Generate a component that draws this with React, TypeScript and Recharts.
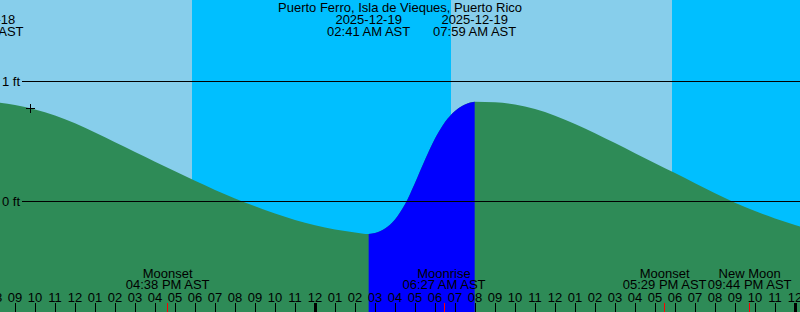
import {
  ComposedChart,
  Area,
  XAxis,
  YAxis,
  ReferenceArea,
  ReferenceLine,
  Scatter,
} from "recharts";

const FONT = '"Liberation Sans", Arial, sans-serif';

const stationName = "Puerto Ferro, Isla de Vieques, Puerto Rico";

// hours counted from 2025-12-18 00:00 AST
const viewStart = 8.25;
const viewEnd = 48.25;

const tideHours = [
  7.35, 8.25, 9, 10, 11, 12, 13, 14, 15, 16, 17, 18, 19, 20, 21, 22, 23, 24,
  25, 26, 26.683, 27, 27.5, 28, 28.5, 29, 29.5, 30, 30.5, 31, 31.5, 31.983, 33,
  34, 35, 36, 37, 38, 39, 40, 41, 42, 43, 44, 45, 46, 47, 48, 48.25,
];
const tideFeet = [
  0.831, 0.819, 0.8, 0.763, 0.712, 0.647, 0.57, 0.49, 0.409, 0.328, 0.248,
  0.168, 0.0925, 0.0217, -0.044, -0.104, -0.158, -0.2025, -0.237, -0.262,
  -0.275, -0.267, -0.229, -0.154, -0.0275, 0.15, 0.343, 0.52, 0.658, 0.75,
  0.804, 0.8275, 0.822, 0.805, 0.766, 0.711, 0.6425, 0.565, 0.4825, 0.398,
  0.315, 0.2325, 0.1475, 0.064, -0.015, -0.084, -0.145, -0.199, -0.212,
];

// low / high tide events
const eventHours = [7.35, 26.683, 31.983];
const eventDates = ["2025-12-18", "2025-12-19", "2025-12-19"];
const eventClock = ["07:21 AM AST", "02:41 AM AST", "07:59 AM AST"];

// daylight bands
const bandStart = [8.25, 17.85, 30.8, 41.85];
const bandEnd = [17.85, 30.8, 41.85, 48.25];
const bandIsDay = [true, false, true, false];

// moon events
const moonHours = [16.633, 30.45, 41.483, 45.733];
const moonNames = ["Moonset", "Moonrise", "Moonset", "New Moon"];
const moonClock = ["04:38 PM AST", "06:27 AM AST", "05:29 PM AST", "09:44 PM AST"];

const hourTicks = [
  8, 9, 10, 11, 12, 13, 14, 15, 16, 17, 18, 19, 20, 21, 22, 23, 24, 25, 26, 27,
  28, 29, 30, 31, 32, 33, 34, 35, 36, 37, 38, 39, 40, 41, 42, 43, 44, 45, 46,
  47, 48,
];
const footTicks = [0, 1];

// current-time marker
const nowMark = [{ t: 9.75, ft: 0.772 }];

const riseFrom = eventHours[1];
const riseTo = eventHours[2];

const data = tideHours.map((t, i) => ({
  t,
  ft: tideFeet[i],
  rise: t >= riseFrom && t <= riseTo ? tideFeet[i] : null,
}));

function hourLabel(h: number) {
  const v = h % 12 === 0 ? 12 : h % 12;
  return v < 10 ? "0" + v : String(v);
}

function HourTick(props: any) {
  const { x, y, payload } = props;
  const midnight = payload.value % 24 === 0;
  return (
    <g>
      <line
        x1={x}
        x2={x}
        y1={y + 1}
        y2={y + 10}
        stroke="#000"
        strokeWidth={midnight ? 3 : 1}
        shapeRendering="crispEdges"
      />
      <text x={x} y={y} textAnchor="middle" fontSize={13} fontFamily={FONT} fill="#000">
        {hourLabel(payload.value)}
      </text>
    </g>
  );
}

// this axis sits 1px above the hour axis (stacked mirror axes)
function MoonTick(props: any) {
  const { x, y, index } = props;
  return (
    <g>
      <line x1={x} x2={x} y1={y + 2} y2={y + 11} stroke="#ff0000" shapeRendering="crispEdges" />
      <text x={x} y={y - 23} textAnchor="middle" fontSize={13} fontFamily={FONT} fill="#000">
        {moonNames[index]}
      </text>
      <text x={x} y={y - 12} textAnchor="middle" fontSize={13} fontFamily={FONT} fill="#000">
        {moonClock[index]}
      </text>
    </g>
  );
}

function EventTick(props: any) {
  const { x, y, index } = props;
  return (
    <g>
      <text x={x} y={y + 24} textAnchor="middle" fontSize={13} fontFamily={FONT} fill="#000">
        {eventDates[index]}
      </text>
      <text x={x} y={y + 36} textAnchor="middle" fontSize={13} fontFamily={FONT} fill="#000">
        {eventClock[index]}
      </text>
    </g>
  );
}

function PlusMark(props: any) {
  const { cx, cy } = props;
  return (
    <g stroke="#000" strokeWidth={1} shapeRendering="crispEdges">
      <line x1={cx - 4.5} x2={cx + 4.5} y1={cy} y2={cy} />
      <line x1={cx} x2={cx} y1={cy - 4.5} y2={cy + 4.5} />
    </g>
  );
}

export default function App() {
  return (
    <div style={{ position: "absolute", left: 0, top: 0, width: 800, height: 312 }}>
      <ComposedChart
        width={800}
        height={312}
        data={data}
        margin={{ top: 0, right: 0, bottom: 0, left: 0 }}
      >
        {bandStart.map((s, i) => (
          <ReferenceArea
            key={"band" + i}
            x1={s}
            x2={bandEnd[i]}
            fill={bandIsDay[i] ? "#87ceeb" : "#00bfff"}
            fillOpacity={1}
            stroke="none"
            ifOverflow="hidden"
            zIndex={-200}
          />
        ))}
        <XAxis
          dataKey="t"
          type="number"
          domain={[viewStart, viewEnd]}
          allowDataOverflow
          ticks={hourTicks}
          interval={0}
          orientation="bottom"
          mirror
          height={1}
          axisLine={false}
          tickLine={false}
          tickSize={9}
          tickMargin={1}
          tick={HourTick}
        />
        <XAxis
          xAxisId="moon"
          dataKey="t"
          type="number"
          domain={[viewStart, viewEnd]}
          allowDataOverflow
          ticks={moonHours}
          interval={0}
          orientation="bottom"
          mirror
          height={1}
          axisLine={false}
          tickLine={false}
          tickSize={9}
          tickMargin={1}
          tick={MoonTick}
        />
        <XAxis
          xAxisId="tide"
          dataKey="t"
          type="number"
          domain={[viewStart, viewEnd]}
          allowDataOverflow
          ticks={eventHours}
          interval={0}
          orientation="top"
          mirror
          height={30}
          axisLine={false}
          tickLine={false}
          tickSize={0}
          tickMargin={0}
          tick={EventTick}
        />
        <YAxis
          type="number"
          domain={[-0.925, 1.675]}
          allowDataOverflow
          ticks={footTicks}
          interval={0}
          mirror
          width={30}
          axisLine={false}
          tickLine={false}
          tickSize={0}
          tickMargin={2}
          tickFormatter={(v: number) => `${v} ft`}
          tick={{ fill: "#000", fontSize: 13, fontFamily: FONT }}
        />
        <Area
          type="monotone"
          dataKey="ft"
          baseValue="dataMin"
          stroke="none"
          fill="#2e8b57"
          fillOpacity={1}
          isAnimationActive={false}
        />
        <Area
          type="monotone"
          dataKey="rise"
          baseValue="dataMin"
          stroke="none"
          fill="#0000ff"
          fillOpacity={1}
          isAnimationActive={false}
        />
        {footTicks.map((v) => (
          <ReferenceLine
            key={"ft" + v}
            segment={[
              { x: 9.35, y: v },
              { x: viewEnd, y: v },
            ]}
            stroke="#000"
            strokeWidth={1}
            shapeRendering="crispEdges"
            ifOverflow="visible"
          />
        ))}
        <Scatter data={nowMark} dataKey="ft" shape={PlusMark} isAnimationActive={false} />
        <text x={400} y={12} textAnchor="middle" fontSize={13} fontFamily={FONT} fill="#000">
          {stationName}
        </text>
      </ComposedChart>
    </div>
  );
}
